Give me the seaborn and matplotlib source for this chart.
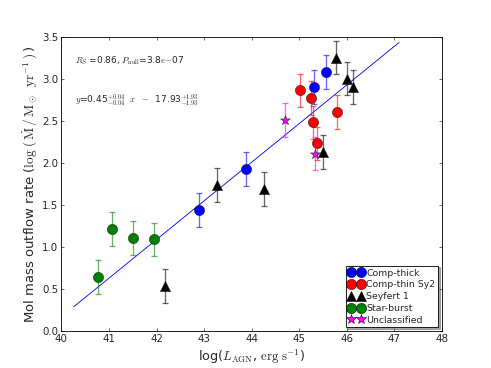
import numpy as np
import pandas as pd
import matplotlib
matplotlib.use("Agg")
import matplotlib.pyplot as plt
from matplotlib.lines import Line2D
import seaborn as sns

# ---- data ----
thick_x = [42.89, 43.88, 45.31, 45.56]
thick_y = [1.44, 1.93, 2.90, 3.08]
thick_e = [0.2, 0.2, 0.2, 0.2]

thin_x = [45.01, 45.25, 45.29, 45.375, 45.79]
thin_y = [2.86, 2.77, 2.48, 2.23, 2.60]
thin_e = [0.2, 0.2, 0.2, 0.2, 0.2]

sy1_x = [42.18, 43.27, 44.25, 45.50, 45.77, 46.00, 46.125]
sy1_y = [0.54, 1.74, 1.69, 2.13, 3.25, 3.00, 2.90]
sy1_e = [0.2, 0.2, 0.2, 0.2, 0.2, 0.2, 0.2]

sb_x = [40.76, 41.06, 41.50, 41.94]
sb_y = [0.64, 1.21, 1.11, 1.09]
sb_e = [0.2, 0.2, 0.2, 0.2]

unc_x = [44.71, 45.34]
unc_y = [2.51, 2.11]
unc_e = [0.2, 0.2]

fit_x = [40.26, 47.10]
fit_y = [0.29, 3.43]

groups = ["Comp-thick", "Comp-thin Sy2", "Seyfert 1", "Star-burst", "Unclassified"]
colors = {"Comp-thick": "blue", "Comp-thin Sy2": "red", "Seyfert 1": "black",
          "Star-burst": "green", "Unclassified": "magenta"}
markers = {"Comp-thick": "o", "Comp-thin Sy2": "o", "Seyfert 1": "^",
           "Star-burst": "o", "Unclassified": "*"}
msize = {"Comp-thick": 12, "Comp-thin Sy2": 12, "Seyfert 1": 12,
         "Star-burst": 12, "Unclassified": 12}

data = {
    "Comp-thick": (thick_x, thick_y, thick_e),
    "Comp-thin Sy2": (thin_x, thin_y, thin_e),
    "Seyfert 1": (sy1_x, sy1_y, sy1_e),
    "Star-burst": (sb_x, sb_y, sb_e),
    "Unclassified": (unc_x, unc_y, unc_e),
}

rows = []
for g in groups:
    xs, ys, es = data[g]
    for x, y, e in zip(xs, ys, es):
        rows.append({"x": x, "y": y, "e": e, "group": g})
df = pd.DataFrame(rows)

# ---- style ----
sns.set_style("ticks")
plt.rcParams.update({
    "font.family": ["DejaVu Sans"],
    "mathtext.fontset": "cm",
    "font.size": 12,
    "xtick.direction": "in",
    "ytick.direction": "in",
    "xtick.top": True,
    "ytick.right": True,
    "xtick.major.size": 4,
    "ytick.major.size": 4,
    "axes.linewidth": 1.0,
    "axes.edgecolor": "black",
})

fig = plt.figure(figsize=(8, 6), dpi=61.375)
ax = fig.add_axes([0.125, 0.1, 0.775, 0.8])

ax.plot(fit_x, fit_y, color="blue", lw=1.0, zorder=1)

for g in groups:
    sub = df[df.group == g]
    ax.errorbar(sub.x, sub.y, yerr=sub.e, fmt="none", ecolor=colors[g],
                alpha=0.6, elinewidth=1.5, capsize=3.5, capthick=1.5, zorder=2)

for g in groups:
    sub = df[df.group == g]
    sns.scatterplot(data=sub, x="x", y="y", ax=ax, color=colors[g],
                    marker=markers[g], s=msize[g] ** 2,
                    edgecolor="#202020",
                    linewidth=0.6, legend=False, zorder=3)

ax.set_xlim(40, 48)
ax.set_ylim(0, 3.5)
ax.set_xticks(np.arange(40, 49, 1))
ax.set_yticks(np.arange(0, 3.51, 0.5))
ax.tick_params(labelsize=12)
ax.set_xlabel(r"log($L_{\rm AGN}$, ${\rm erg\ s^{-1}}$)", fontsize=15)
ax.set_ylabel(r"Mol mass outflow rate ($\log\,(\,\dot{\rm M}\,/\,{\rm M_\odot}\;\;{\rm yr}^{-1}\,)\,$)",
              fontsize=15.5)

ax.text(40.29, 3.21, r"$R_S\ $=0.86, $P_{\rm null}$=3.8$e$$-$07", fontsize=10.5,
        va="center", ha="left")
ax.text(40.29, 2.75, r"$y$=0.45$^{+0.04}_{-0.04}\ \ x\ \ -\ \ $17.93$^{+1.93}_{-1.93}$",
        fontsize=10.5, va="center", ha="left")

handles = [Line2D([], [], linestyle="none", marker=markers[g], color=colors[g],
                  markersize=msize[g], markeredgecolor="black", markeredgewidth=0.6)
           for g in groups]
leg = ax.legend(handles, groups, loc="lower right", numpoints=2, fontsize=11,
                frameon=True, shadow=True, fancybox=False, handlelength=1.6,
                handletextpad=0.3, borderpad=0.3, labelspacing=0.3, borderaxespad=0.4)
leg.get_frame().set_edgecolor("black")
leg.get_frame().set_linewidth(1.0)

fig.savefig("out.png", dpi=61.375)
